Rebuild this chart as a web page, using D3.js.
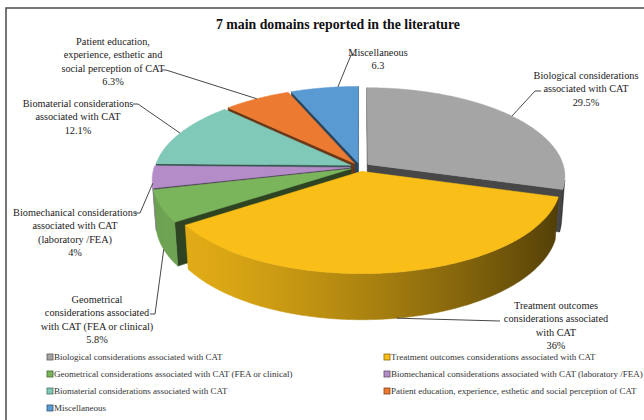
<!DOCTYPE html>
<html>
<head>
<meta charset="utf-8">
<script src="https://cdn.jsdelivr.net/npm/d3@7"></script>
<style>
  html, body { margin: 0; padding: 0; background: #fff; }
  svg { display: block; }
  text { font-family: "Liberation Serif", "Times New Roman", serif; fill: #222; }
</style>
</head>
<body>
<svg id="chart" width="644" height="420"></svg>
<script>
// ---- data ----
const title = "7 main domains reported in the literature";
const categories = [
  "Biological considerations associated with CAT",
  "Treatment outcomes considerations associated with CAT",
  "Geometrical considerations associated with CAT (FEA or clinical)",
  "Biomechanical considerations associated with CAT (laboratory /FEA)",
  "Biomaterial considerations associated with CAT",
  "Patient education, experience, esthetic and social perception of CAT",
  "Miscellaneous"
];
const values = [29.5, 36, 5.8, 4, 12.1, 6.3, 6.3];
const valueLabels = ["29.5%", "36%", "5.8%", "4%", "12.1%", "6.3%", "6.3"];
const labelLines = [
  ["Biological considerations", "associated with CAT"],
  ["Treatment outcomes", "considerations associated", "with CAT"],
  ["Geometrical", "considerations associated", "with CAT (FEA or clinical)"],
  ["Biomechanical considerations", "associated with CAT", "(laboratory /FEA)"],
  ["Biomaterial considerations", "associated with CAT"],
  ["Patient education,", "experience, esthetic and", "social perception of CAT"],
  ["Miscellaneous"]
];
const sliceColors = ["#A5A5A5", "#F9BE17", "#7AB55C", "#B48CC8", "#80C8B8", "#EC7A30", "#5A9AD2"];

// ---- layout ----
const W = 644, H = 420;
const view = {
  cx: 360, cy: 167,          // screen position of the pie centre
  focal: 1323, dist: 6.75,   // perspective camera
  tilt: 26.5 * Math.PI / 180,
  thick: 0.24,               // pie height (radius = 1)
  explode: 0.05              // slice offset from centre
};
// label block: centre x, first baseline, leader start points,
// where the leader meets the slice (fraction of its angle, height on the wall 0 top .. 1 bottom)
const labelLayout = [
  { x: 586, y: 79,  lead: [[541, 91], [535, 91]],   at: 0.5,  wall: 0 },
  { x: 556, y: 309, lead: [[500, 321]],             at: 0.5,  wall: 1 },
  { x: 97,  y: 303, lead: [[150, 314], [155, 314]], at: 0.5,  wall: 1 },
  { x: 75,  y: 216, lead: [[135, 213], [140, 213]], at: 0.5,  wall: 0.15 },
  { x: 78,  y: 107, lead: [[133, 104], [138, 104]], at: 0.5,  wall: 0 },
  { x: 113, y: 45,  lead: [[162, 70], [166, 70]],   at: 0.5,  wall: 0 },
  { x: 378, y: 56,  lead: [[355, 55], [351, 55]],   at: 0.7,  wall: 0 }
];
const lineGap = 13.4;

const svg = d3.select("#chart");
const defs = svg.append("defs");

// frame
svg.append("rect")
  .attr("x", 6).attr("y", 8).attr("width", 700).attr("height", 500)
  .attr("fill", "none").attr("stroke", "#4a4a4a").attr("stroke-width", 1.5);

// title
svg.append("text")
  .attr("x", 338).attr("y", 29)
  .attr("text-anchor", "middle")
  .style("font-size", "13.8px").style("font-weight", "bold").style("fill", "#111")
  .text(title);

// ---- 3D pie ----
const sinT = Math.sin(view.tilt), cosT = Math.cos(view.tilt);
const camera = [0, view.dist * sinT, view.dist * cosT];

function project(p) {
  const yc = p[1] * cosT - p[2] * sinT;
  const zc = view.dist - (p[1] * sinT + p[2] * cosT);
  return [view.cx + view.focal * p[0] / zc, view.cy - view.focal * yc / zc, zc];
}
function rim(theta, off, y) {
  return [off[0] + Math.sin(theta), y, off[1] - Math.cos(theta)];
}
function facing(normal, p) {
  return normal[0] * (camera[0] - p[0]) + normal[1] * (camera[1] - p[1]) + normal[2] * (camera[2] - p[2]) > 0;
}
const light = (() => { const l = [-0.85, 0.53]; const m = Math.hypot(l[0], l[1]); return [l[0] / m, l[1] / m]; })();
function shade(color, k) {
  const c = d3.rgb(color);
  return d3.rgb(c.r * k, c.g * k, c.b * k).formatHex();
}
function lit(nx, nz) { return (nx * light[0] + nz * light[1] + 1) / 2; }

const color = d3.scaleOrdinal().domain(categories).range(sliceColors);
const arcs = d3.pie().sort(null).value(d => d)(values);
const step = Math.PI / 360;
const h = -view.thick;
const line = d3.line();
const xy = p => [p[0], p[1]];

const sideFaces = [];
const tops = [];
arcs.forEach((a, i) => {
  const base = color(categories[i]);
  const mid = (a.startAngle + a.endAngle) / 2;
  const off = [view.explode * Math.sin(mid), -view.explode * Math.cos(mid)];
  a.off = off; a.mid = mid;
  const n = Math.max(2, Math.ceil((a.endAngle - a.startAngle) / step));
  const thetas = d3.range(n + 1).map(k => a.startAngle + (a.endAngle - a.startAngle) * k / n);

  // top surface
  tops.push({ pts: [[off[0], 0, off[1]]].concat(thetas.map(t => rim(t, off, 0))), fill: base });

  // outer wall: the part turned towards the camera, shaded with a gradient
  const vis = thetas.filter(t => facing([Math.sin(t), 0, -Math.cos(t)], rim(t, off, h / 2)));
  if (vis.length > 1) {
    const topPts = vis.map(t => project(rim(t, off, 0)));
    const botPts = vis.map(t => project(rim(t, off, h)));
    const xs = topPts.map(p => p[0]);
    const x1 = d3.min(xs), x2 = d3.max(xs);
    const id = "wall" + i;
    const stops = vis.map((t, k) => ({
      o: (xs[k] - x1) / Math.max(1e-6, x2 - x1),
      c: shade(base, 0.28 + 0.62 * Math.pow(lit(Math.sin(t), -Math.cos(t)), 1.5))
    })).sort((p, q) => p.o - q.o);
    defs.append("linearGradient").attr("id", id)
      .attr("gradientUnits", "userSpaceOnUse")
      .attr("x1", x1).attr("x2", x2).attr("y1", 0).attr("y2", 0)
      .selectAll("stop").data(stops).join("stop")
      .attr("offset", s => s.o).attr("stop-color", s => s.c);
    const all = topPts.concat(botPts.slice().reverse());
    sideFaces.push({
      screen: all, fill: `url(#${id})`,
      depth: d3.mean(all, p => p[2])
    });
  }
  // radial cut faces
  [[a.startAngle, -1], [a.endAngle, 1]].forEach(([t, sgn]) => {
    const nx = sgn * Math.cos(t), nz = sgn * Math.sin(t);
    const mp = [off[0] + Math.sin(t) / 2, h / 2, off[1] - Math.cos(t) / 2];
    if (!facing([nx, 0, nz], mp)) return;
    const pts = [[off[0], 0, off[1]], rim(t, off, 0), rim(t, off, h), [off[0], h, off[1]]].map(project);
    sideFaces.push({
      screen: pts, fill: shade(base, 0.3 + 0.15 * lit(nx, nz)),
      depth: d3.mean(pts, p => p[2])
    });
  });
});
sideFaces.sort((a, b) => b.depth - a.depth);

const pieG = svg.append("g");
pieG.selectAll("path.side").data(sideFaces).join("path")
  .attr("class", "side")
  .attr("d", f => line(f.screen.map(xy)) + "Z")
  .attr("fill", f => f.fill)
  .attr("stroke", f => f.fill)
  .attr("stroke-width", 0.6)
  .attr("stroke-linejoin", "round");
pieG.selectAll("path.top").data(tops).join("path")
  .attr("class", "top")
  .attr("d", f => line(f.pts.map(project).map(xy)) + "Z")
  .attr("fill", f => f.fill)
  .attr("stroke", f => f.fill)
  .attr("stroke-width", 0.5);

// ---- data labels with leader lines ----
const labG = svg.append("g");
arcs.forEach((a, i) => {
  const L = labelLayout[i];
  const ang = a.startAngle + (a.endAngle - a.startAngle) * L.at;
  const target = project(rim(ang, a.off, h * L.wall));
  labG.append("path")
    .attr("d", line(L.lead.concat([xy(target)])))
    .attr("fill", "none").attr("stroke", "#333").attr("stroke-width", 0.9);
  const t = labG.append("text")
    .attr("text-anchor", "middle")
    .style("font-size", "10.3px");
  labelLines[i].concat([valueLabels[i]]).forEach((s, k) => {
    t.append("tspan").attr("x", L.x).attr("y", L.y + k * lineGap).text(s);
  });
});

// ---- legend ----
const legCols = [47, 384], legRows = [357, 374, 391, 408];
const legG = svg.append("g");
categories.forEach((c, i) => {
  const x = legCols[i % 2], y = legRows[Math.floor(i / 2)];
  const g = legG.append("g").attr("transform", `translate(${x},${y})`);
  g.append("rect").attr("x", 0).attr("y", -3).attr("width", 6).attr("height", 6)
    .attr("fill", color(c)).attr("stroke", shade(color(c), 0.55)).attr("stroke-width", 0.8);
  g.append("text").attr("x", 7).attr("y", 3.3)
    .style("font-size", "9px").style("fill", "#333")
    .text(c);
});
</script>
</body>
</html>
